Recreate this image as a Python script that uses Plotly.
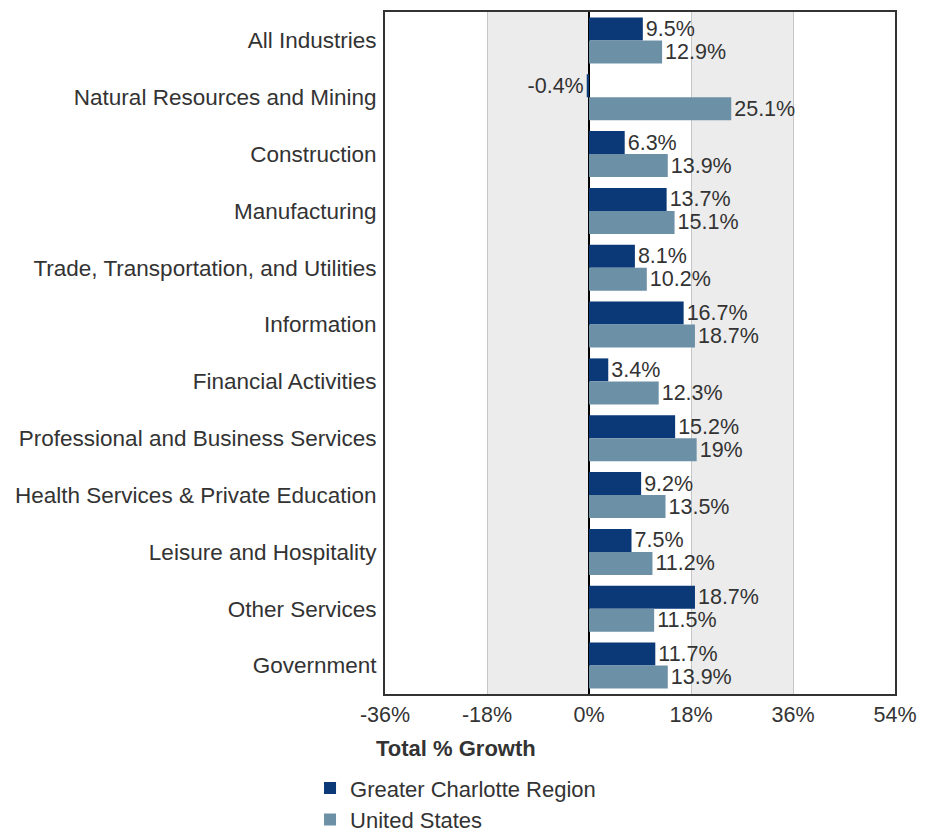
import plotly.graph_objects as go

categorias = [
    "All Industries",
    "Natural Resources and Mining",
    "Construction",
    "Manufacturing",
    "Trade, Transportation, and Utilities",
    "Information",
    "Financial Activities",
    "Professional and Business Services",
    "Health Services & Private Education",
    "Leisure and Hospitality",
    "Other Services",
    "Government",
]
charlotte = [9.5, -0.4, 6.3, 13.7, 8.1, 16.7, 3.4, 15.2, 9.2, 7.5, 18.7, 11.7]
eua = [12.9, 25.1, 13.9, 15.1, 10.2, 18.7, 12.3, 19, 13.5, 11.2, 11.5, 13.9]
ticks = [-36, -18, 0, 18, 36, 54]
ticks_texto = [f"{t}%" for t in ticks]

cores = ["#0b3877", "#6c91a7"]
fonte = "Liberation Sans, Arial, Helvetica, sans-serif"
cor_texto = "#333333"

fig = go.Figure()
for nome, valores, cor in [("Greater Charlotte Region", charlotte, cores[0]),
                           ("United States", eua, cores[1])]:
    fig.add_trace(go.Bar(
        name=nome,
        y=categorias,
        x=valores,
        orientation="h",
        marker_color=cor,
        marker_line_width=0,
        text=[f"{v:g}%" for v in valores],
        textposition="outside",
        constraintext="none",
        cliponaxis=False,
        textfont=dict(size=21.5, color=cor_texto, family=fonte),
    ))

# faixas cinzas alternadas
for x0, x1 in [(-18, 0), (18, 36)]:
    fig.add_shape(type="rect", xref="x", yref="paper", x0=x0, x1=x1, y0=0, y1=1,
                  fillcolor="#ececec", line_width=0, layer="below")

fig.add_annotation(text="<b>Total % Growth</b>", xref="paper", yref="paper",
                   x=0.139, y=-0.080, xanchor="center", yanchor="middle", showarrow=False,
                   font=dict(size=22, color=cor_texto, family=fonte))

# a página tem margem de 8px no body, por isso 928x827
fig.update_layout(
    width=928, height=827,
    margin=dict(l=377, r=41, t=2, b=141),
    barmode="group",
    bargap=0.19,
    bargroupgap=0,
    plot_bgcolor="white",
    paper_bgcolor="white",
    font=dict(family=fonte, size=21.5, color=cor_texto),
    showlegend=True,
    legend=dict(x=-0.147, xanchor="left", yref="container", y=0.082, yanchor="top",
                font=dict(size=22, color=cor_texto)),
)
fig.update_xaxes(range=[-36, 54], tickmode="array", tickvals=ticks, ticktext=ticks_texto,
                 showgrid=True, gridcolor="#c6c6c6", gridwidth=1,
                 zeroline=True, zerolinecolor="black", zerolinewidth=2,
                 showline=True, linecolor="#333333", linewidth=2, mirror=True,
                 ticks="", tickfont=dict(size=21.5))
fig.update_yaxes(autorange="reversed", showgrid=False,
                 showline=True, linecolor="#333333", linewidth=2, mirror=True,
                 ticks="", ticklabelstandoff=2, tickfont=dict(size=22.5))

fig.write_html("out.html")
